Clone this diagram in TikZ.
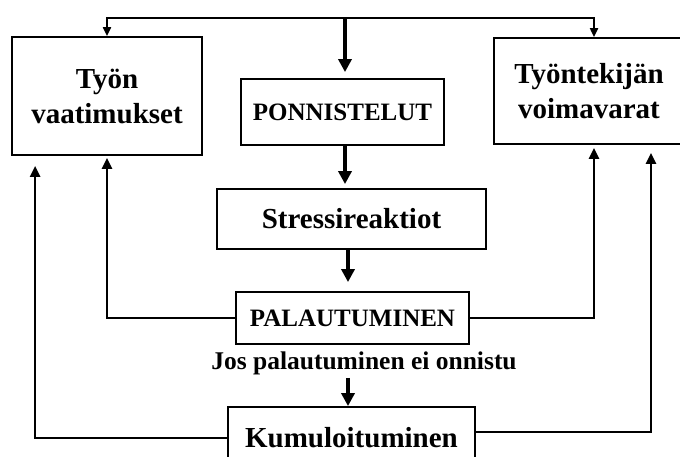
\documentclass[tikz,border=0pt]{standalone}
\usepackage{fontspec}
\setmainfont{Liberation Serif}
\usetikzlibrary{arrows.meta,calc}
\begin{document}
\begin{tikzpicture}[x=1pt,y=-1pt,
 box/.style={draw=black,line width=1.8pt,inner sep=0pt,align=center},
 big/.style={font=\bfseries\fontsize{29}{35}\selectfont},
 mid/.style={font=\bfseries\fontsize{25}{30}\selectfont},
 bigarr/.style={line width=3.6pt,-{Triangle[length=13pt,width=13pt]}},
 fbarr/.style={line width=2.6pt,-{Triangle[length=11pt,width=10pt]}},
 thinarr/.style={line width=2pt,-{Triangle[length=9pt,width=8pt]}}]
\useasboundingbox (0,0) rectangle (680,456);
\clip (0,0) rectangle (680,456);
\node[box,big,minimum width=190pt,minimum height=118pt] (tv) at (107,96) {Työn\\vaatimukset};
\node[box,minimum width=200pt,minimum height=106pt] (tr) at (594,91) {};
\node[inner sep=0pt,align=center,big] (trt) at (589,91) {Työntekijän\\voimavarat};
\node[box,mid,minimum width=203pt,minimum height=66pt] (ponn) at (342.5,112) {PONNISTELUT};
\node[box,mid,minimum width=269pt,minimum height=60pt,big] (stress) at (351.5,219) {Stressireaktiot};
\node[box,mid,minimum width=233pt,minimum height=52pt] (pal) at (352.5,318) {PALAUTUMINEN};
\node[inner sep=0pt,font=\bfseries\fontsize{25.5}{30}\selectfont] (lbl) at (364,363) {Jos palautuminen ei onnistu};
\node[box,big,minimum width=247pt,minimum height=62pt] (kum) at (351.5,438) {Kumuloituminen};
\coordinate (topc) at (345,18);
\coordinate (lowx) at (348,0);
% top distribution line
\draw[thinarr] (topc) -| (tv.north);
\draw[thinarr] (topc) -| (tr.north);
\draw[bigarr,shorten >=6pt] (topc) -- (topc |- ponn.north);
\draw[bigarr,shorten >=4pt] (topc |- ponn.south) -- (topc |- stress.north);
\draw[bigarr,shorten >=9pt] (lowx |- stress.south) -- (lowx |- pal.north);
\draw[bigarr,shorten <=3pt] (lowx |- lbl.south) -- (lowx |- kum.north);
% feedback
\draw[fbarr,shorten >=2pt] (pal.west) -| (tv.south);
\draw[fbarr,shorten >=3pt] (pal.east) -| (tr.south);
\draw[fbarr,shorten >=10pt] (kum.west) -| ($(tv.south west)+(24,0)$);
\draw[fbarr,shorten >=8pt] ($(kum.east)+(0,-6)$) -| ($(tr.south)+(57,0)$);
\end{tikzpicture}
\end{document}
